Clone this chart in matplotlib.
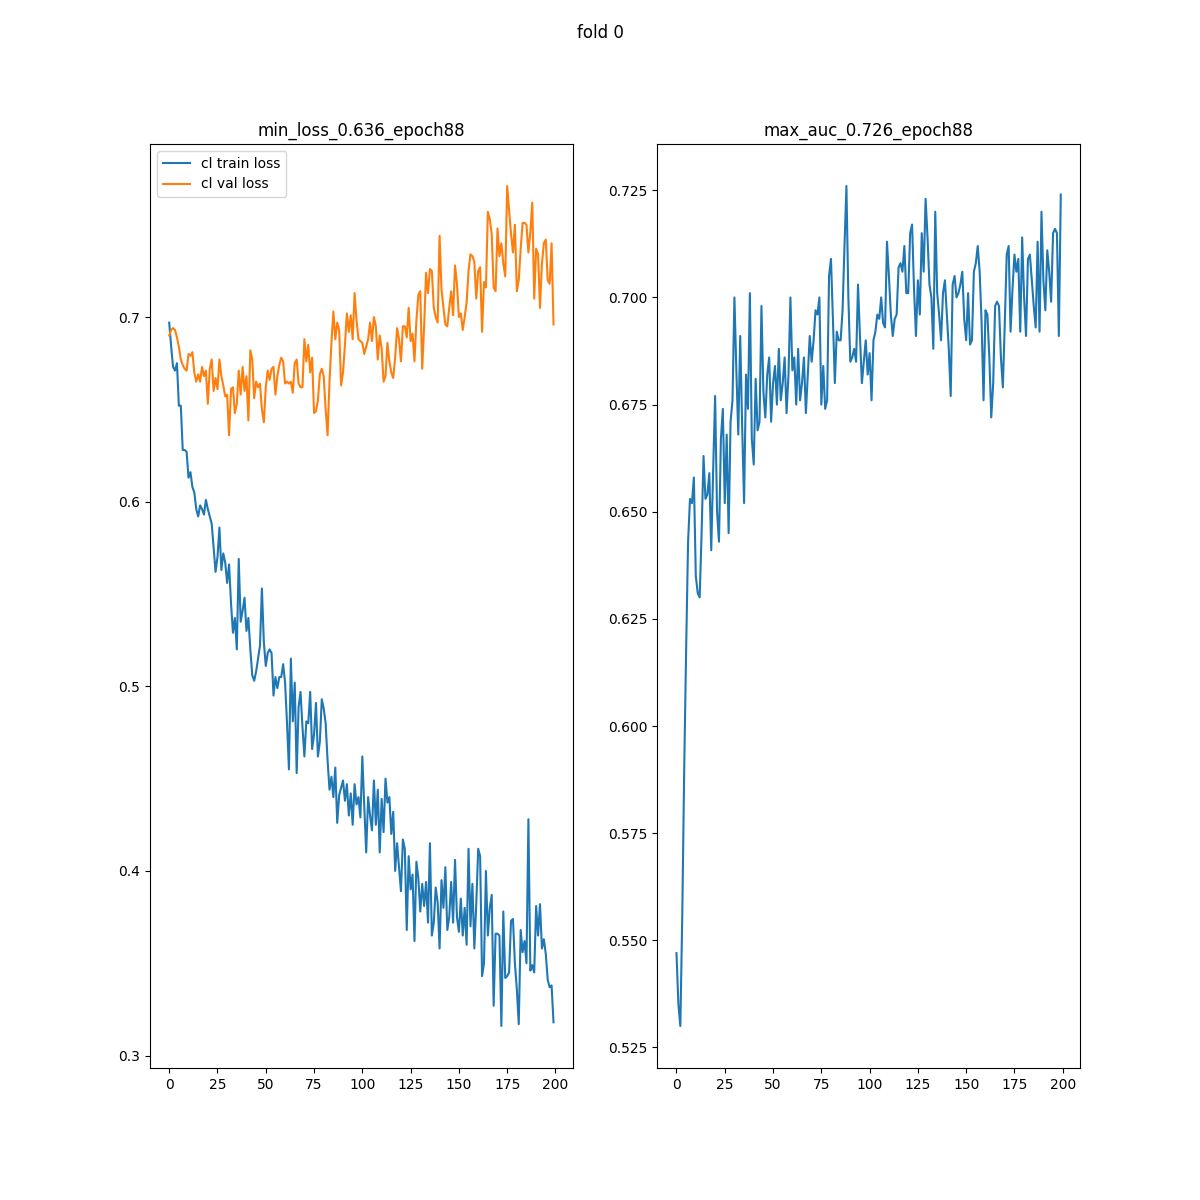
import matplotlib.pyplot as plt
import numpy as np

train_loss = [
    0.697, 0.684, 0.673, 0.671, 0.675, 0.652, 0.652, 0.628, 0.628, 0.627,
    0.613, 0.616, 0.608, 0.605, 0.596, 0.592, 0.598, 0.596, 0.593, 0.601,
    0.596, 0.592, 0.588, 0.575, 0.562, 0.570, 0.586, 0.563, 0.572, 0.567,
    0.556, 0.566, 0.545, 0.529, 0.537, 0.520, 0.569, 0.535, 0.541, 0.548,
    0.530, 0.537, 0.520, 0.506, 0.503, 0.508, 0.515, 0.522, 0.553, 0.524,
    0.511, 0.518, 0.520, 0.518, 0.495, 0.505, 0.499, 0.505, 0.505, 0.512,
    0.502, 0.480, 0.455, 0.515, 0.481, 0.502, 0.453, 0.489, 0.497, 0.478,
    0.462, 0.481, 0.480, 0.497, 0.466, 0.474, 0.491, 0.462, 0.470, 0.493,
    0.488, 0.480, 0.460, 0.444, 0.451, 0.440, 0.456, 0.426, 0.441, 0.445,
    0.449, 0.438, 0.447, 0.430, 0.442, 0.425, 0.447, 0.436, 0.440, 0.429,
    0.462, 0.435, 0.410, 0.440, 0.430, 0.422, 0.449, 0.425, 0.444, 0.410,
    0.439, 0.421, 0.450, 0.437, 0.440, 0.420, 0.432, 0.400, 0.415, 0.402,
    0.389, 0.417, 0.412, 0.368, 0.408, 0.390, 0.398, 0.362, 0.405, 0.396,
    0.378, 0.393, 0.381, 0.394, 0.372, 0.415, 0.365, 0.372, 0.391, 0.383,
    0.358, 0.395, 0.380, 0.402, 0.368, 0.375, 0.394, 0.372, 0.406, 0.375,
    0.367, 0.385, 0.365, 0.380, 0.360, 0.412, 0.370, 0.393, 0.358, 0.382,
    0.412, 0.408, 0.343, 0.350, 0.400, 0.365, 0.380, 0.387, 0.327, 0.366,
    0.366, 0.365, 0.316, 0.378, 0.342, 0.343, 0.345, 0.373, 0.374, 0.350,
    0.336, 0.317, 0.368, 0.356, 0.362, 0.350, 0.428, 0.346, 0.349, 0.345,
    0.381, 0.365, 0.382, 0.358, 0.363, 0.355, 0.341, 0.337, 0.338, 0.318,
]

val_loss = [
    0.690, 0.693, 0.694, 0.693, 0.689, 0.684, 0.677, 0.674, 0.672, 0.671,
    0.680, 0.679, 0.681, 0.670, 0.665, 0.669, 0.665, 0.673, 0.668, 0.671,
    0.653, 0.672, 0.677, 0.660, 0.667, 0.661, 0.677, 0.668, 0.663, 0.657,
    0.658, 0.636, 0.661, 0.662, 0.648, 0.653, 0.671, 0.658, 0.673, 0.660,
    0.668, 0.644, 0.682, 0.677, 0.656, 0.665, 0.662, 0.664, 0.650, 0.643,
    0.662, 0.671, 0.666, 0.672, 0.673, 0.658, 0.668, 0.674, 0.678, 0.676,
    0.664, 0.665, 0.664, 0.665, 0.659, 0.675, 0.677, 0.664, 0.662, 0.662,
    0.688, 0.676, 0.685, 0.670, 0.678, 0.648, 0.649, 0.655, 0.669, 0.672,
    0.668, 0.650, 0.636, 0.665, 0.686, 0.703, 0.688, 0.697, 0.693, 0.663,
    0.670, 0.685, 0.702, 0.692, 0.701, 0.688, 0.713, 0.698, 0.688, 0.687,
    0.686, 0.680, 0.684, 0.688, 0.697, 0.687, 0.700, 0.695, 0.677, 0.690,
    0.683, 0.665, 0.668, 0.686, 0.676, 0.670, 0.667, 0.678, 0.694, 0.688,
    0.676, 0.695, 0.695, 0.689, 0.705, 0.687, 0.691, 0.676, 0.698, 0.712,
    0.714, 0.672, 0.695, 0.724, 0.713, 0.726, 0.725, 0.705, 0.700, 0.697,
    0.744, 0.715, 0.705, 0.696, 0.695, 0.705, 0.714, 0.701, 0.728, 0.718,
    0.700, 0.702, 0.693, 0.700, 0.708, 0.725, 0.734, 0.733, 0.730, 0.710,
    0.725, 0.727, 0.692, 0.719, 0.716, 0.757, 0.753, 0.745, 0.716, 0.714,
    0.748, 0.733, 0.740, 0.729, 0.722, 0.771, 0.758, 0.745, 0.735, 0.750,
    0.714, 0.720, 0.737, 0.751, 0.751, 0.750, 0.735, 0.746, 0.762, 0.710,
    0.737, 0.734, 0.705, 0.729, 0.740, 0.742, 0.720, 0.718, 0.740, 0.696,
]

val_auc = [
    0.547, 0.535, 0.530, 0.556, 0.590, 0.618, 0.643, 0.653, 0.652, 0.658,
    0.635, 0.631, 0.630, 0.645, 0.663, 0.653, 0.654, 0.659, 0.641, 0.660,
    0.677, 0.650, 0.643, 0.667, 0.674, 0.652, 0.668, 0.645, 0.671, 0.676,
    0.700, 0.683, 0.668, 0.691, 0.670, 0.652, 0.682, 0.674, 0.701, 0.667,
    0.661, 0.681, 0.669, 0.671, 0.698, 0.678, 0.672, 0.682, 0.686, 0.671,
    0.680, 0.684, 0.675, 0.688, 0.676, 0.680, 0.686, 0.673, 0.682, 0.700,
    0.683, 0.686, 0.675, 0.688, 0.676, 0.680, 0.686, 0.673, 0.682, 0.691,
    0.685, 0.690, 0.697, 0.696, 0.700, 0.675, 0.684, 0.674, 0.676, 0.705,
    0.709, 0.695, 0.680, 0.692, 0.690, 0.690, 0.697, 0.712, 0.726, 0.700,
    0.685, 0.686, 0.688, 0.685, 0.703, 0.691, 0.680, 0.685, 0.690, 0.682,
    0.687, 0.676, 0.690, 0.692, 0.696, 0.695, 0.700, 0.694, 0.693, 0.713,
    0.705, 0.696, 0.691, 0.695, 0.696, 0.707, 0.708, 0.706, 0.712, 0.701,
    0.701, 0.715, 0.717, 0.702, 0.691, 0.704, 0.696, 0.715, 0.706, 0.723,
    0.714, 0.703, 0.700, 0.688, 0.720, 0.701, 0.696, 0.690, 0.701, 0.704,
    0.696, 0.688, 0.677, 0.703, 0.705, 0.700, 0.701, 0.703, 0.706, 0.695,
    0.690, 0.701, 0.689, 0.690, 0.706, 0.708, 0.712, 0.706, 0.694, 0.676,
    0.697, 0.696, 0.686, 0.672, 0.680, 0.698, 0.699, 0.698, 0.686, 0.679,
    0.694, 0.710, 0.712, 0.692, 0.702, 0.710, 0.706, 0.709, 0.692, 0.714,
    0.700, 0.691, 0.709, 0.710, 0.704, 0.698, 0.693, 0.713, 0.692, 0.720,
    0.704, 0.697, 0.711, 0.706, 0.699, 0.715, 0.716, 0.715, 0.691, 0.724,
]

epochs = np.arange(len(train_loss))

fig, (ax1, ax2) = plt.subplots(1, 2, figsize=(12, 12))
fig.suptitle("fold 0")

ax1.plot(epochs, train_loss, label="cl train loss")
ax1.plot(epochs, val_loss, label="cl val loss")
ax1.set_title("min_loss_0.636_epoch88")
ax1.legend(loc="upper left")

ax2.plot(epochs, val_auc)
ax2.set_title("max_auc_0.726_epoch88")

plt.savefig("out.png", dpi=100)
plt.close()
